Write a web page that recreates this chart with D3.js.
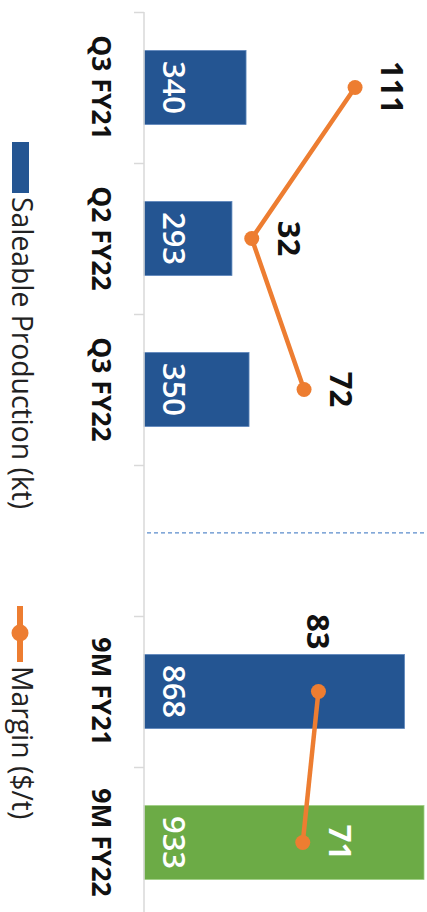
<!DOCTYPE html>
<html>
<head>
<meta charset="utf-8">
<script src="https://cdn.jsdelivr.net/npm/d3@7/dist/d3.min.js"></script>
<style>
  html, body { margin: 0; padding: 0; background: #ffffff; }
  svg { display: block; }
  text { font-family: "Open Sans", "Liberation Sans", sans-serif; }
</style>
</head>
<body>
<div id="chart"></div>
<script>
// ---- data ----
const categories = ["Q3 FY21", "Q2 FY22", "Q3 FY22", "9M FY21", "9M FY22"];
const production = [340, 293, 350, 868, 933];      // Saleable Production (kt)
const margin = [111, 32, 72, 83, 71];              // Margin ($/t)
const periodGroup = ["Q", "Q", "Q", "9M", "9M"];   // line segments per group
const legendLabels = ["Saleable Production (kt)", "Margin ($/t)"];

// ---- layout (chart is drawn upright, then rotated 90° clockwise) ----
const W = 427, H = 912;
const CW = H, CH = W;           // chart coordinate width/height before rotation
const baseY = 283;              // category axis position (chart y)

const svg = d3.select("#chart").append("svg")
  .attr("width", W).attr("height", H);

const g = svg.append("g").attr("transform", `translate(${W},0) rotate(90)`);

const GAP = "__gap__";
const domain = [categories[0], categories[1], categories[2], GAP, categories[3], categories[4]];

const x = d3.scaleBand().domain(domain).range([12, 918]).paddingInner(0.51).paddingOuter(0.255);
const y = d3.scaleLinear().domain([0, 943]).range([baseY, 0]);
const y2 = d3.scaleLinear().domain([-50, 166]).range([282.5, 0]);

const data = categories.map((c, i) => ({ cat: c, prod: production[i], margin: margin[i], grp: periodGroup[i], i }));

const BLUE = "#245592", GREEN = "#6cab46", ORANGE = "#ed7d31";

// dashed separator inside the gap slot
const gapStart = x(GAP) - x.step() * x.paddingInner() / 2;
const sepX = gapStart + x.step() * 0.45;
g.append("line")
  .attr("x1", sepX).attr("x2", sepX)
  .attr("y1", baseY - 3).attr("y2", 0)
  .attr("stroke", "#5b8ccc").attr("stroke-width", 1.3)
  .attr("stroke-dasharray", "4,3");

// bars
g.selectAll("rect.bar").data(data).join("rect")
  .attr("class", "bar")
  .attr("x", d => x(d.cat))
  .attr("width", x.bandwidth())
  .attr("y", d => y(d.prod))
  .attr("height", d => y(0) - y(d.prod))
  .attr("fill", d => d.i === data.length - 1 ? GREEN : BLUE)
  .attr("stroke", d => d.i === data.length - 1 ? "#9fcf83" : "#5d86bb")
  .attr("stroke-width", 0.8);

// bar value labels
g.selectAll("text.barlab").data(data).join("text")
  .attr("class", "barlab")
  .attr("x", d => x(d.cat) + x.bandwidth() / 2)
  .attr("y", baseY - 19)
  .attr("text-anchor", "middle")
  .attr("fill", "#ffffff")
  .attr("font-size", 31)
  .attr("font-weight", 600)
  .text(d => d.prod);

// category axis with ticks at slot boundaries
const tickScale = d3.scaleLinear().domain([0, domain.length]).range(x.range());
const axis = g.append("g")
  .attr("transform", `translate(0,${baseY})`)
  .call(d3.axisBottom(tickScale).ticks(domain.length).tickSize(10).tickFormat(""));
axis.select(".domain").attr("stroke", "#d9d9d9").attr("stroke-width", 1.5)
  .attr("d", `M${tickScale(0)},0H${CW + 5}`);
axis.selectAll(".tick line").attr("stroke", "#d9d9d9").attr("stroke-width", 1.5);

// category labels
g.selectAll("text.cat").data(data).join("text")
  .attr("class", "cat")
  .attr("x", d => x(d.cat) + x.bandwidth() / 2)
  .attr("y", 335)
  .attr("text-anchor", "middle")
  .attr("fill", "#111111")
  .attr("font-size", 26.5)
  .attr("font-weight", 700)
  .text(d => d.cat);

// margin lines (one per period group)
const line = d3.line().x(d => x(d.cat) + x.bandwidth() / 2).y(d => y2(d.margin));
const groups = d3.groups(data, d => d.grp);
groups.forEach(([k, arr]) => {
  g.append("path").datum(arr)
    .attr("d", line)
    .attr("fill", "none")
    .attr("stroke", ORANGE)
    .attr("stroke-width", 4.5)
    .attr("stroke-linejoin", "round");
});
g.selectAll("circle.pt").data(data).join("circle")
  .attr("class", "pt")
  .attr("cx", d => x(d.cat) + x.bandwidth() / 2)
  .attr("cy", d => y2(d.margin))
  .attr("r", 7.5)
  .attr("fill", ORANGE);

// margin value labels
g.selectAll("text.mlab").data(data).join("text")
  .attr("class", "mlab")
  .each(function (d) {
    const cx = x(d.cat) + x.bandwidth() / 2, cy = y2(d.margin);
    const t = d3.select(this);
    if (d.cat === "9M FY21") {
      t.attr("x", cx - 42).attr("y", cy + 11).attr("text-anchor", "end");
    } else {
      t.attr("x", cx).attr("y", cy - 26).attr("text-anchor", "middle");
    }
  })
  .attr("fill", d => d.i === data.length - 1 ? "#ffffff" : "#111111")
  .attr("font-size", 31)
  .attr("font-weight", 700)
  .text(d => d.margin);

// legend
const leg = g.append("g");
leg.append("rect")
  .attr("x", 142).attr("y", 398).attr("width", 51).attr("height", 17)
  .attr("fill", BLUE);
leg.append("text")
  .attr("x", 197).attr("y", 415)
  .attr("font-size", 28.3).attr("fill", "#222222")
  .text(legendLabels[0]);
leg.append("line")
  .attr("x1", 606).attr("x2", 662).attr("y1", 407).attr("y2", 407)
  .attr("stroke", ORANGE).attr("stroke-width", 6);
leg.append("circle")
  .attr("cx", 633).attr("cy", 407).attr("r", 8.5).attr("fill", ORANGE);
leg.append("text")
  .attr("x", 666).attr("y", 415)
  .attr("font-size", 28.3).attr("fill", "#222222")
  .text(legendLabels[1]);
</script>
</body>
</html>
